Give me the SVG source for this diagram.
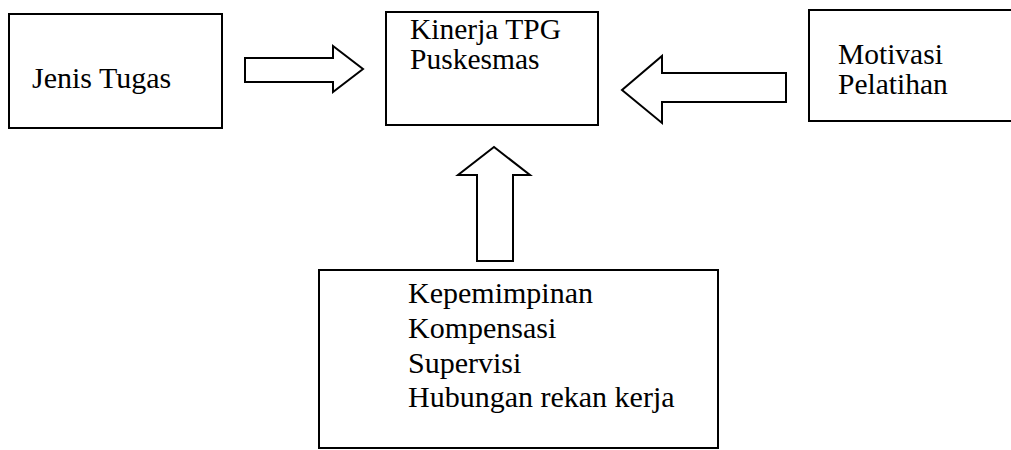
<svg xmlns="http://www.w3.org/2000/svg" width="1011" height="450" viewBox="0 0 1011 450">
<style>
.box{fill:#fff;stroke:#000;stroke-width:2}
.arr{fill:#fff;stroke:#000;stroke-width:2;stroke-linejoin:miter}
.t{font-family:'Liberation Serif','Times New Roman',serif;font-size:30px;fill:#000}
.s{font-size:29.5px}
</style>
<rect width="1011" height="450" fill="#fff"/>
<g id="jenis-tugas">
<rect class="box" x="9" y="14" width="213" height="114"/>
<text class="t" x="32" y="88">Jenis Tugas</text>
</g>
<g id="kinerja">
<rect class="box" x="386" y="12" width="212" height="113"/>
<text class="t s" x="410" y="39">Kinerja TPG</text>
<text class="t s" x="410" y="69">Puskesmas</text>
</g>
<g id="motivasi">
<rect class="box" x="809" y="10" width="210" height="111"/>
<text class="t s" x="838" y="64">Motivasi</text>
<text class="t s" x="838" y="94">Pelatihan</text>
</g>
<g id="faktor">
<rect class="box" x="319" y="270" width="399" height="178"/>
<text class="t" x="408" y="303">Kepemimpinan</text>
<text class="t" x="408" y="338">Kompensasi</text>
<text class="t" x="408" y="373">Supervisi</text>
<text class="t" x="408" y="407">Hubungan rekan kerja</text>
</g>
<g id="connectors">
<polygon class="arr" points="245,58 333,58 333,46 363,69 333,92 333,82 245,82"/>
<polygon class="arr" points="786,73 662,73 662,56 622,90 662,123 662,102 786,102"/>
<polygon class="arr" points="477,261 477,175 458,175 494,147 530,175 513,175 513,261"/>
</g>
</svg>
